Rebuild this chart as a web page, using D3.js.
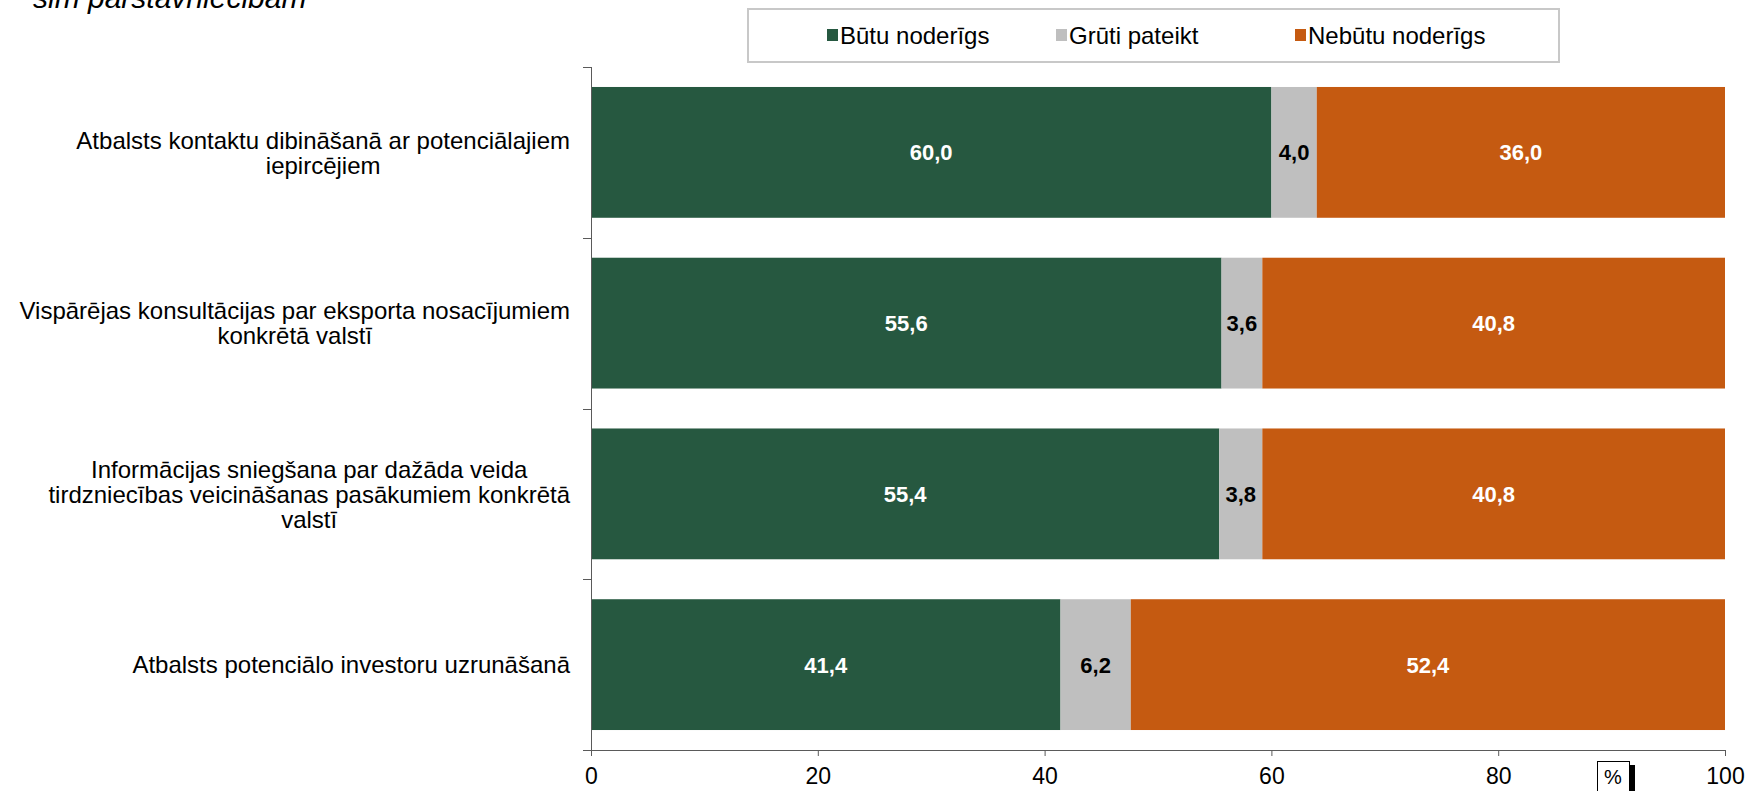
<!DOCTYPE html>
<html>
<head>
<meta charset="utf-8">
<script src="https://cdn.jsdelivr.net/npm/d3@7"></script>
<style>
  html, body { margin: 0; padding: 0; background: #fff; }
  svg { display: block; font-family: Arial, "Liberation Sans", sans-serif; }
</style>
</head>
<body>
<svg id="chart" width="1748" height="791"></svg>
<script>
// ---- Data ----
const categories = [
  ["Atbalsts kontaktu dibināšanā ar potenciālajiem", "iepircējiem"],
  ["Vispārējas konsultācijas par eksporta nosacījumiem", "konkrētā valstī"],
  ["Informācijas sniegšana par dažāda veida", "tirdzniecības veicināšanas pasākumiem konkrētā", "valstī"],
  ["Atbalsts potenciālo investoru uzrunāšanā"]
];
const seriesNames = ["Būtu noderīgs", "Grūti pateikt", "Nebūtu noderīgs"];
const butuNoderigs = [60.0, 55.6, 55.4, 41.4];
const grutiPateikt = [4.0, 3.6, 3.8, 6.2];
const nebutuNoderigs = [36.0, 40.8, 40.8, 52.4];
const xTicks = [0, 20, 40, 60, 80, 100];
const titleTail = "sim pārstāvniecībām";
const unitLabel = "%";

const colors = ["#265840", "#BFBFBF", "#C55A11"];
const labelColors = ["#ffffff", "#000000", "#ffffff"];

// ---- Layout ----
const svg = d3.select("#chart");
const plot = { left: 591, right: 1725, top: 67, bottom: 750 };

const catKeys = categories.map((c, i) => "c" + i);
const table = catKeys.map((k, i) => ({
  key: k, lines: categories[i],
  s0: butuNoderigs[i], s1: grutiPateikt[i], s2: nebutuNoderigs[i]
}));
const stack = d3.stack().keys(["s0", "s1", "s2"])(table);

const x = d3.scaleLinear().domain([0, 100]).range([plot.left, plot.right]);
const y = d3.scaleBand().domain(catKeys).range([plot.top, plot.bottom])
  .paddingInner(0.234).paddingOuter(0.117);

// Title fragment (cut off at top, as in the reference)
svg.append("text")
  .attr("x", 33).attr("y", 8)
  .attr("font-size", 30).attr("font-style", "italic")
  .attr("fill", "#000")
  .text(titleTail);

// Bars
const layers = svg.append("g").selectAll("g").data(stack).join("g")
  .attr("fill", (d, i) => colors[i]);
layers.selectAll("rect").data(d => d).join("rect")
  .attr("x", d => x(d[0]))
  .attr("y", d => y(d.data.key))
  .attr("width", d => x(d[1]) - x(d[0]))
  .attr("height", y.bandwidth());

// Value labels
stack.forEach((layer, si) => {
  svg.append("g").selectAll("text").data(layer).join("text")
    .attr("x", d => (x(d[0]) + x(d[1])) / 2)
    .attr("y", d => y(d.data.key) + y.bandwidth() / 2)
    .attr("dy", "0.36em")
    .attr("text-anchor", "middle")
    .attr("font-size", 22).attr("font-weight", "bold")
    .attr("fill", labelColors[si])
    .text(d => d3.format(".1f")(d[1] - d[0]).replace(".", ","));
});

// X axis
const axisColor = "#5a5a5a";
const xAxis = svg.append("g")
  .attr("transform", `translate(0,${plot.bottom})`)
  .call(d3.axisBottom(x).tickValues(xTicks).tickSize(6).tickSizeOuter(0).tickFormat(d3.format("d")));
xAxis.select(".domain").attr("stroke", axisColor).attr("d", `M${plot.left - 8},0.5H${plot.right}`);
xAxis.selectAll(".tick line").attr("stroke", axisColor);
xAxis.selectAll(".tick text").attr("font-size", 23).attr("fill", "#000")
  .attr("font-family", "Arial, 'Liberation Sans', sans-serif").attr("dy", "1.1em");

// Y axis: line with ticks at category boundaries
const yAxisG = svg.append("g");
yAxisG.append("line")
  .attr("x1", plot.left + 0.5).attr("x2", plot.left + 0.5)
  .attr("y1", plot.top).attr("y2", plot.bottom + 6)
  .attr("stroke", axisColor);
const boundaries = catKeys.map(k => y(k) - y.step() * y.paddingInner() / 2);
yAxisG.selectAll("line.tk").data(boundaries).join("line")
  .attr("class", "tk")
  .attr("x1", plot.left - 8).attr("x2", plot.left)
  .attr("y1", d => Math.round(d) + 0.5).attr("y2", d => Math.round(d) + 0.5)
  .attr("stroke", axisColor);

// Category labels (right-aligned block, lines centered)
const labelRight = 570;
const lineH = 25;
table.forEach(d => {
  const g = svg.append("g");
  const texts = g.selectAll("text").data(d.lines).join("text")
    .attr("font-size", 24).attr("fill", "#000")
    .attr("text-anchor", "middle")
    .text(t => t);
  let maxW = 0;
  texts.each(function () { maxW = Math.max(maxW, this.getComputedTextLength()); });
  const cx = labelRight - maxW / 2;
  const cy = y(d.key) + y.bandwidth() / 2;
  const n = d.lines.length;
  texts.attr("x", cx)
    .attr("y", (t, i) => cy + (i - (n - 1) / 2) * lineH)
    .attr("dy", "0.36em");
});

// Legend
const legend = svg.append("g");
legend.append("rect")
  .attr("x", 748).attr("y", 9).attr("width", 811).attr("height", 53)
  .attr("fill", "#fff").attr("stroke", "#C8C8C8").attr("stroke-width", 2);
const legStarts = [827, 1056, 1295];
const legItems = legend.selectAll("g.it").data(seriesNames).join("g")
  .attr("class", "it")
  .attr("transform", (d, i) => `translate(${legStarts[i]},0)`);
legItems.append("rect")
  .attr("x", 0).attr("y", 29).attr("width", 11).attr("height", 12)
  .attr("fill", (d, i) => colors[i]);
legItems.append("text")
  .attr("x", 13).attr("y", 35).attr("dy", "0.36em")
  .attr("font-size", 24).attr("fill", "#000")
  .text(d => d);

// Unit box "%"
const ub = svg.append("g");
ub.append("rect").attr("x", 1629).attr("y", 765).attr("width", 6).attr("height", 30).attr("fill", "#000");
ub.append("rect").attr("x", 1597.5).attr("y", 761.5).attr("width", 32).attr("height", 35)
  .attr("fill", "#fff").attr("stroke", "#000").attr("stroke-width", 1);
ub.append("text").attr("x", 1613).attr("y", 784).attr("text-anchor", "middle")
  .attr("font-size", 20).attr("fill", "#000").text(unitLabel);
</script>
</body>
</html>
